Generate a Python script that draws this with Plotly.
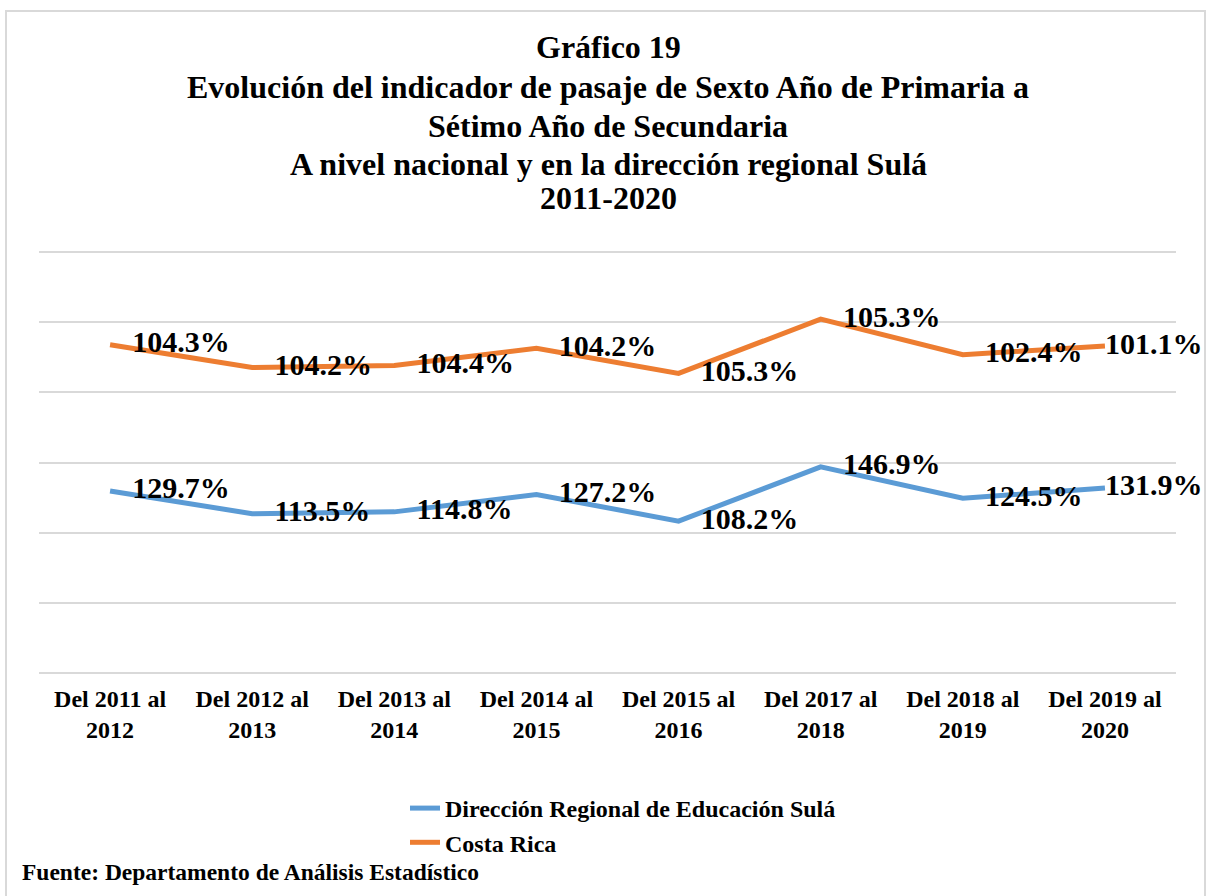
import plotly.graph_objects as go

categories = ["Del 2011 al<br>2012", "Del 2012 al<br>2013", "Del 2013 al<br>2014", "Del 2014 al<br>2015",
              "Del 2015 al<br>2016", "Del 2017 al<br>2018", "Del 2018 al<br>2019", "Del 2019 al<br>2020"]
sula = [129.7, 113.5, 114.8, 127.2, 108.2, 146.9, 124.5, 131.9]
costa_rica = [104.3, 104.2, 104.4, 104.2, 105.3, 105.3, 102.4, 101.1]

title_lines = ["Gráfico 19",
               "Evolución del indicador de pasaje de Sexto Año de Primaria a",
               "Sétimo Año de Secundaria",
               "A nivel nacional y en la dirección regional Sulá",
               "2011-2020"]

FONT = "Liberation Serif, Times New Roman, serif"
lab_font = dict(family=FONT, size=30, color="black")

# plot area in pixels: x 39..1176, y 250..675
def px(sx):
    return (sx - 39) / 1137

def py(sy):
    return (675 - sy) / 425

# invisible markers only push the value labels away from the line;
# the last label sits right at the end of the line (as in the original)
label_push = [34] * (len(categories) - 1) + [0]
ghost = dict(size=label_push, color="rgba(0,0,0,0)", opacity=0, line=dict(width=0))

fig = go.Figure()
fig.add_trace(go.Scatter(
    x=categories, y=sula, name="<b>Dirección Regional de Educación Sulá</b>",
    stackgroup="one", fill="none", mode="lines+markers+text",
    line=dict(color="#5B9BD5", width=5),
    marker=ghost,
    text=[f"<b>{v:.1f}%</b>" for v in sula], textposition="middle right",
    textfont=lab_font, cliponaxis=False))
fig.add_trace(go.Scatter(
    x=categories, y=costa_rica, name="<b>Costa Rica</b>",
    stackgroup="one", fill="none", mode="lines+markers+text",
    line=dict(color="#ED7D31", width=5),
    marker=ghost,
    text=[f"<b>{v:.1f}%</b>" for v in costa_rica], textposition="middle right",
    textfont=lab_font, cliponaxis=False))

ys = [47, 87, 126, 164, 198]
for t, ypx in zip(title_lines, ys):
    fig.add_annotation(text=f"<b>{t}</b>", xref="paper", yref="paper",
                       x=px(608), y=py(ypx), showarrow=False,
                       font=dict(family=FONT, size=32, color="black"),
                       xanchor="center", yanchor="middle")

fig.add_annotation(text="<b>Fuente: Departamento de Análisis Estadístico</b>", xref="paper", yref="paper",
                   x=px(20), y=py(872), showarrow=False,
                   font=dict(family=FONT, size=23.5, color="black"),
                   xanchor="left", yanchor="middle")

fig.add_shape(type="rect", xref="paper", yref="paper",
              x0=px(6), x1=px(1205), y0=py(905), y1=py(11),
              line=dict(color="#D9D9D9", width=2))

fig.update_layout(
    width=1209, height=896,
    font=dict(family=FONT, color="black"),
    margin=dict(l=39, r=33, t=250, b=221, autoexpand=False),
    paper_bgcolor="white", plot_bgcolor="white",
    showlegend=True,
    legend=dict(x=px(405), y=py(786), xanchor="left", yanchor="top",
                font=dict(family=FONT, size=24, color="black"), orientation="v",
                tracegroupgap=0, traceorder="normal"),
    xaxis=dict(type="category", range=[-0.5, 7.5], showgrid=False, zeroline=False,
               showline=False, ticks="", ticklabelstandoff=7,
               tickfont=dict(family=FONT, size=24, color="black")),
    yaxis=dict(range=[-1.5, 301.5], tickvals=[0, 50, 100, 150, 200, 250, 300], showgrid=True,
               gridcolor="#D9D9D9", gridwidth=2,
               showticklabels=False, zeroline=False, showline=False, ticks=""),
)
fig.update_xaxes(ticktext=[f"<b>{c}</b>" for c in categories], tickvals=categories)

fig.write_html("out.html", config={"displayModeBar": False},
               post_script="document.body.style.margin='0';")
